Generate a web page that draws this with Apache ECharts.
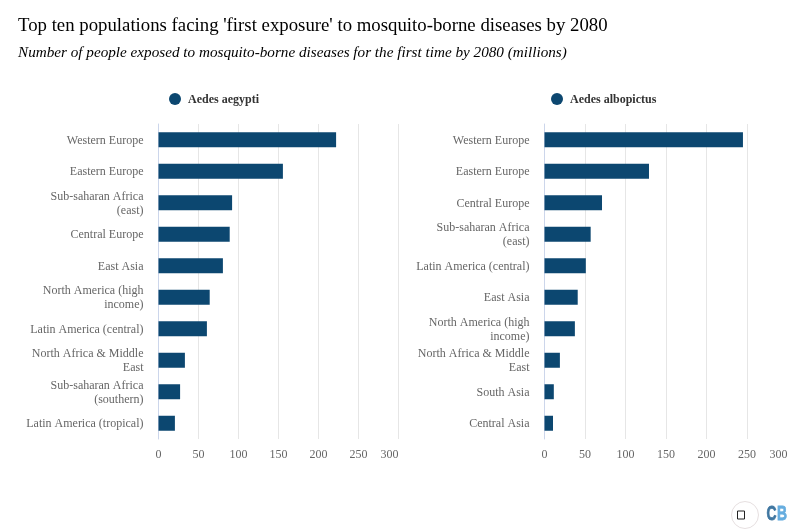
<!DOCTYPE html>
<html>
<head>
<meta charset="utf-8">
<style>html,body{margin:0;padding:0;background:#fff}#c{width:805px;height:529px}</style>
<script src="https://cdn.jsdelivr.net/npm/echarts@6/dist/echarts.min.js"></script>
</head>
<body>
<div id="c"></div>
<script>
const titleText = "Top ten populations facing 'first exposure' to mosquito-borne diseases by 2080";
const subtitleText = "Number of people exposed to mosquito-borne diseases for the first time by 2080 (millions)";
const aegyptiCategories = ["Western Europe","Eastern Europe","Sub-saharan Africa\n(east)","Central Europe","East Asia","North America (high\nincome)","Latin America (central)","North Africa & Middle\nEast","Sub-saharan Africa\n(southern)","Latin America (tropical)"];
const aegyptiValues = [222,155.5,92,89,80.5,64,60.5,33,27,20.5];
const albopictusCategories = ["Western Europe","Eastern Europe","Central Europe","Sub-saharan Africa\n(east)","Latin America (central)","East Asia","North America (high\nincome)","North Africa & Middle\nEast","South Asia","Central Asia"];
const albopictusValues = [245,129,71,57,51,41,37.5,19,11.5,10.5];
const FONT = '"Liberation Serif","Times New Roman",serif';
const BAR = '#0c4770';
const labelStyle = {fontFamily:FONT,fontSize:12,color:'#666',lineHeight:15};

function xAxis(i, showMax){
  return {
    type:'value', gridIndex:i, min:0, max:300, interval:50,
    axisLine:{show:false}, axisTick:{show:false},
    axisLabel:{fontFamily:FONT,fontSize:12,color:'#666',margin:10,alignMaxLabel:'right'},
    splitLine:{show:true,showMaxLine:showMax,lineStyle:{color:'#e6e6e6',width:1}}
  };
}
function yAxis(i, cats){
  return {
    type:'category', gridIndex:i, data:cats, inverse:true,
    axisLine:{show:true,lineStyle:{color:'#ccd6eb',width:1}}, axisTick:{show:false},
    axisLabel:{...labelStyle,margin:15,interval:0,align:'right',
      formatter:function(v){
        const parts = v.split('\n');
        if(parts.length===1) return '{a|'+v+'}';
        return '{c|'+parts[0]+'}\n{b|'+parts[1]+'}';
      },
      rich:{
        a:{...labelStyle,align:'right',padding:[2,0,0,0]},
        c:{...labelStyle,align:'right',padding:[3,0,0,0]},
        b:{...labelStyle,align:'right',padding:[1,0,0,0]}
      }
    },
    splitLine:{show:false}
  };
}
function legend(name,left){
  const st = {fontFamily:FONT,fontSize:12,fontWeight:'bold',color:'#333'};
  return {
    data:[{name:name,icon:'circle'}], left:left, top:93, itemWidth:12, itemHeight:12, itemGap:0,
    padding:0, selectedMode:false,
    formatter:'{a|{name}}',
    textStyle:{...st,rich:{a:{...st,padding:[2,0,0,2]}}}
  };
}
const chart = echarts.init(document.getElementById('c'),null,{renderer:'canvas'});
chart.setOption({
  animation:false,
  backgroundColor:'#fff',
  title:[
    {text:titleText,left:18,top:17,padding:0,textStyle:{fontFamily:FONT,fontSize:18.8,fontWeight:'normal',color:'#000'}},
    {text:subtitleText,left:18,top:46,padding:0,textStyle:{fontFamily:FONT,fontSize:15.2,fontStyle:'italic',fontWeight:'normal',color:'#000'}}
  ],
  legend:[legend('Aedes aegypti',169),legend('Aedes albopictus',551)],
  grid:[
    {left:158.5,top:124,width:240,height:315},
    {left:544.5,top:124,width:243,height:315}
  ],
  xAxis:[xAxis(0,true),xAxis(1,false)],
  yAxis:[yAxis(0,aegyptiCategories),yAxis(1,albopictusCategories)],
  series:[
    {name:'Aedes aegypti',type:'bar',xAxisIndex:0,yAxisIndex:0,data:aegyptiValues,barWidth:15,itemStyle:{color:BAR}},
    {name:'Aedes albopictus',type:'bar',xAxisIndex:1,yAxisIndex:1,data:albopictusValues,barWidth:15,itemStyle:{color:BAR}}
  ],
  graphic:[
    {type:'circle',shape:{cx:745,cy:515,r:13.5},style:{fill:'#fff',stroke:'#e6dfe0',lineWidth:1}},
    {type:'rect',shape:{x:737.5,y:511,width:7,height:8},style:{fill:'#fff',stroke:'#222',lineWidth:1}},
    {type:'text',x:766.5,y:504,scaleX:0.66,style:{text:'C',font:'bold 21px "Liberation Sans",sans-serif',fill:'#3f76a0',stroke:'#3f76a0',lineWidth:0.8}},
    {type:'text',x:777,y:504,scaleX:0.66,style:{text:'B',font:'bold 21px "Liberation Sans",sans-serif',fill:'#66addf',stroke:'#66addf',lineWidth:0.8}}
  ]
});
</script>
</body>
</html>
